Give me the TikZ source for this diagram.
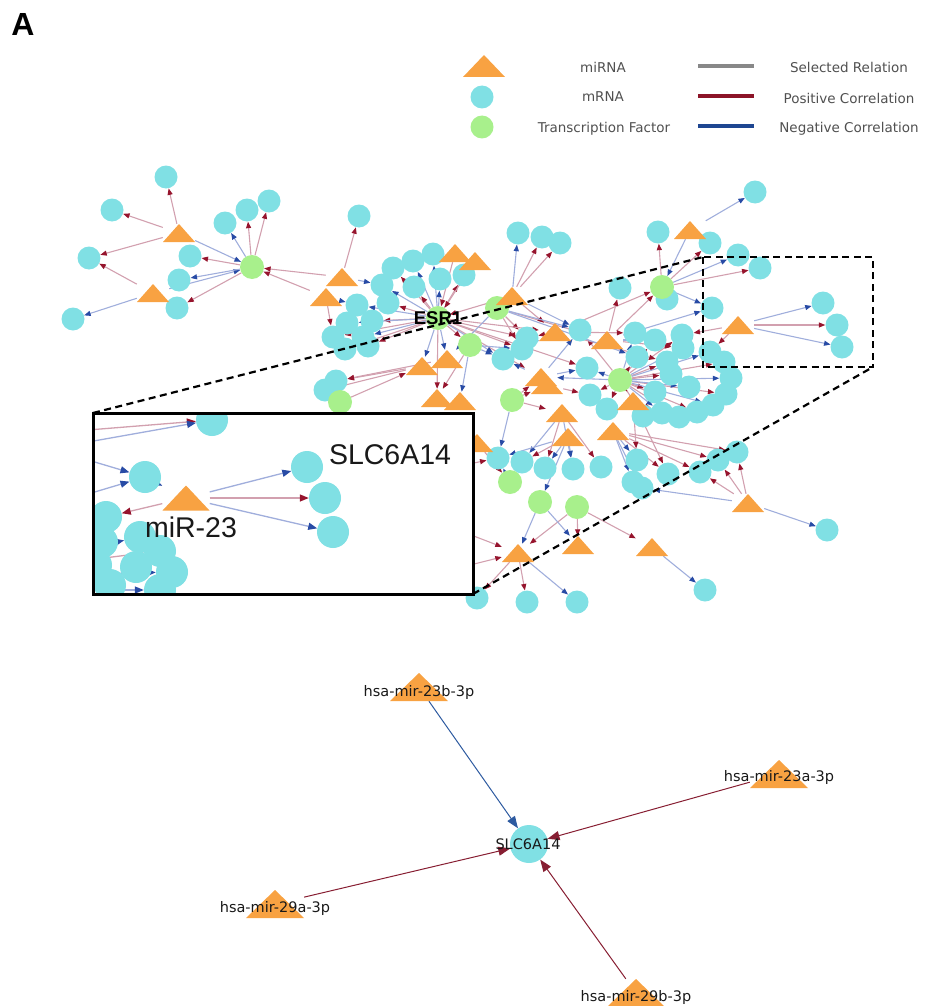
\documentclass[tikz,border=0pt]{standalone}
\usepackage{fontspec}
\setmainfont{DejaVu Sans}
\newfontfamily\arialf{Liberation Sans}
\usetikzlibrary{arrows.meta,backgrounds}
\pgfdeclarelayer{insetback}
\pgfdeclarelayer{insetfront}
\pgfsetlayers{background,main,insetback,insetfront}

\definecolor{mrnacol}{RGB}{128,224,228}
\definecolor{tfcol}{RGB}{168,240,140}
\definecolor{mircol}{RGB}{248,162,66}
\definecolor{posline}{RGB}{210,160,175}
\definecolor{postip}{RGB}{150,20,45}
\definecolor{negline}{RGB}{160,174,220}
\definecolor{negtip}{RGB}{40,75,165}
\definecolor{posdark}{RGB}{135,30,50}
\definecolor{negdark}{RGB}{45,90,160}
\definecolor{legtext}{RGB}{80,80,80}
\definecolor{selgray}{RGB}{136,136,136}
\definecolor{legred}{RGB}{140,20,40}
\definecolor{legblue}{RGB}{30,70,145}

\tikzset{
  mr/.style={circle, fill=mrnacol, inner sep=0pt, minimum size=23pt},
  tf/.style={circle, fill=tfcol, inner sep=0pt, minimum size=24pt},
  tri/.style={rectangle, inner sep=0pt,
    path picture={\fill[mircol] (path picture bounding box.south west)
      -- (path picture bounding box.south east)
      -- (path picture bounding box.north) -- cycle;}},
  mi/.style={tri, minimum width=32pt, minimum height=18pt},
  posedge/.style={draw=posline, line width=1.1pt, -{Triangle[length=6.5pt,width=5pt,color=postip]}},
  negedge/.style={draw=negline, line width=1.1pt, -{Triangle[length=6.5pt,width=5pt,color=negtip]}},
  imr/.style={mr, minimum size=32pt},
  imi/.style={tri, minimum width=47pt, minimum height=25pt},
  iposedge/.style={draw=posline, line width=1.3pt, -{Triangle[length=9pt,width=7pt,color=postip]}},
  inegedge/.style={draw=negline, line width=1.3pt, -{Triangle[length=9pt,width=7pt,color=negtip]}},
  bmr/.style={mr, minimum size=38pt},
  bmi/.style={tri, minimum width=58pt, minimum height=28pt},
  bposedge/.style={draw=posdark, line width=1pt, -{Triangle[length=12pt,width=9pt]}},
  bnegedge/.style={draw=negdark, line width=1pt, -{Triangle[length=12pt,width=9pt]}},
  blbl/.style={inner sep=0pt, font=\fontsize{14.5}{16}\selectfont, text=black!90},
  legtxt/.style={inner sep=0pt, font=\fontsize{13.5}{15}\selectfont, text=legtext},
  legline/.style={line width=4pt},
  dashln/.style={line width=2.2pt, dash pattern=on 7pt off 4.5pt, black},
  bigtxt/.style={inner sep=0pt, font=\arialf\fontsize{28.5}{30}\selectfont, text=black!90},
}

\begin{document}
\begin{tikzpicture}[x=1pt,y=-1pt]
\useasboundingbox (0,0) rectangle (924,1006);

% panel letter
\node[inner sep=0pt, font=\arialf\bfseries\fontsize{32}{34}\selectfont] (panel) at (23,24) {A};

% ---------------- legend ----------------
\node[mi, minimum width=42pt, minimum height=22pt] (legmi) at (484,66) {};
\node[mr] (legmr) at (482,97) {};
\node[tf, minimum size=23pt] (legtf) at (482,127) {};
\node[legtxt] (legmit) at (603,67) {miRNA};
\node[legtxt] (legmrt) at (603,97) {mRNA};
\node[legtxt] (legtft) at (604,129) {Transcription Factor};
\coordinate (ls1) at (698,66);  \coordinate (ls2) at (754,66);
\coordinate (lp1) at (698,96);  \coordinate (lp2) at (754,96);
\coordinate (ln1) at (698,126); \coordinate (ln2) at (754,126);
\draw[legline, selgray] (ls1) -- (ls2);
\draw[legline, legred] (lp1) -- (lp2);
\draw[legline, legblue] (ln1) -- (ln2);
\node[legtxt] (legsel) at (849,67) {Selected Relation};
\node[legtxt] (legpos) at (849,98) {Positive Correlation};
\node[legtxt] (legneg) at (849,129) {Negative Correlation};

% ---------------- network: mRNA nodes ----------------
\foreach \n/\x/\y in {
  a1/166/177, a2/112/210, a4/247/210, a5/269/201, a6/225/223, a7/89/258,
  a8/190/256, a9/179/280, a11/177/308, a12/73/319, a13/359/216,
  e1/357/305, e2/388/303, e3/382/285, e4/393/268, e5/413/261, e6/433/254,
  e7/440/279, e8/414/287, e9/464/275, e10/347/323, e11/372/321, e12/333/337,
  e13/363/337, e14/345/349, e15/368/346,
  f1/518/233, f2/542/237, f3/560/243,
  h1/325/390, h2/336/381, h3/503/359, h4/527/338, h5/522/349,
  k1/580/330, k2/620/288, k3/667/299, k4/712/308, k5/823/303, k6/837/325,
  k7/842/347, k8/658/232, k9/755/192, k10/710/243, k11/738/255, k12/760/268,
  r1/635/333, r2/655/340, r3/682/335, r4/683/348, r5/637/357, r6/667/362,
  r7/710/352, r8/724/362, r9/731/378, r10/726/394, r11/713/405, r12/697/412,
  r13/679/417, r14/662/413, r15/643/416, r16/655/392, r17/689/387, r18/671/374,
  r19/587/368, r20/590/395, r21/607/409,
  b1/498/458, b2/522/462, b3/545/468, b4/573/469, b5/601/467, b6/637/460,
  b7/633/482, b8/642/488, b9/668/474, b10/700/472, b11/718/460, b12/737/452,
  bc1/477/598, bc2/527/602, bc3/577/602, bc4/705/590, bc5/827/530}
  \node[mr] (\n) at (\x,\y) {};

% ---------------- network: transcription factors ----------------
\foreach \n/\x/\y in {
  g1/252/267, esr/438/318, g2/497/308, hg/340/402, g3/470/345, g4/662/287,
  g5/620/380, g6/512/400, lg1/510/482, lg2/540/502, lg3/577/507}
  \node[tf] (\n) at (\x,\y) {};

% ---------------- network: miRNA nodes ----------------
\foreach \n/\x/\y in {
  a3/179/233, a10/153/293, a14/342/277, a15/326/297,
  et1/455/253, et2/475/261, ft/512/296,
  ht1/422/366, ht2/447/359, ht3/437/398, ht4/460/401, hx/477/443,
  kt1/555/332, kt2/607/340, kt3/690/230, t8/738/325,
  kt4/541/377, kt4b/547/385, kt5/633/401,
  lt1/562/413, lt2/568/437, lt3/613/431,
  bt1/518/553, bt2/578/545, bt3/652/547, bt4/748/503}
  \node[mi] (\n) at (\x,\y) {};

\node[inner sep=0pt, font=\arialf\bfseries\fontsize{18.5}{20}\selectfont] (esrlbl) at (esr) {ESR1};

% free ends of edges that run under the inset
\coordinate (hidA) at (430,575);
\coordinate (hidB) at (445,525);
\coordinate (hidC) at (440,470);

% ---------------- network: edges ----------------
\begin{pgfonlayer}{background}
\foreach \src/\dst in {
  a3/a1, a3/a2, a3/a7, a10/a7, g1/a4, g1/a5, g1/a8, g1/a11, a14/g1, a15/g1, a14/a13,
  esr/e2, esr/e4, esr/e8, esr/e9, esr/e11, esr/e12, esr/e14, esr/e15, et1/esr, et2/esr,
  ft/f2, ft/f3, ft/esr, esr/h4, esr/h5, esr/ht3, g3/ht3, hg/ht1, ht1/h2, ht1/h1, ht2/h2,
  kt1/g4, kt2/g4, kt2/k2, kt1/h4, g4/k8, g4/k10, g4/k12, t8/k6, t8/r3, t8/r7, g2/h4,
  g5/r2, g5/r3, g5/r5, g5/r6, g5/r8, g5/r10, g5/r12, g5/r13, g5/r15, g5/r16, g5/r18,
  g5/r20, g5/r21, g5/kt5, kt5/r14, esr/kt1, g2/kt2, ft/kt1, esr/r19, kt4b/r20,
  g6/lt1, g6/kt4, lt1/b3, lt1/b5, lt2/b2, lt3/b9, lt3/b10, lt3/b11, lt3/b12,
  lg3/bt2, lg3/bt3, lg3/bt1, bt1/bc1, bt1/bc2, bt4/b12, bt4/b11, bt4/b10, hx/lg1,
  hidA/bt1, hidB/bt1, esr/g3, g6/kt4b, kt1/r1, a15/e12, g2/h5, kt5/b9, kt5/b6,
  kt2/r4, g5/k1, kt1/r6, esr/kt4, hidC/b1}
  \draw[posedge] (\src) -- (\dst);
\foreach \src/\dst in {
  a3/g1, a10/a12, a10/g1, g1/a6, g1/a9, a14/e3, a15/e1,
  esr/e1, esr/e3, esr/e5, esr/e6, esr/e7, esr/e10, esr/e13, ft/f1, ft/k1, g2/ht2,
  esr/h3, esr/ht1, g3/ht4, kt1/h3,
  kt3/k9, kt3/g4, g4/k11, g4/k4, t8/k5, t8/k7, kt2/k4, g2/k1,
  g5/r1, g5/r4, g5/r7, g5/r9, g5/r11, g5/r14, g5/r17, g5/r19, kt4/h3, kt4/r19, kt4/k1,
  g6/b1, lt1/b2, lt1/b4, lt2/b3, lt2/b4, lt2/b1, lt2/lg2, lg2/bt1, lg2/bt2,
  lt3/b6, lt3/b7, lt3/b8, bt1/bc3, bt3/bc4, bt4/bc5, bt4/b8, lg1/b1, g3/h3,
  g5/kt4, g2/r5, kt2/r2, esr/ht2, g3/h5}
  \draw[negedge] (\src) -- (\dst);
\end{pgfonlayer}

% ---------------- zoom frame and guide lines ----------------
\coordinate (zoomNW) at (703,257);
\coordinate (zoomSE) at (873,367);
\coordinate (insNW) at (93,413);
\coordinate (insSE) at (473,594);
\draw[dashln] (insNW) -- (zoomNW);
\draw[dashln] (insSE) -- (zoomSE);
\draw[dashln] (zoomNW) rectangle (zoomSE);

% ---------------- inset: nodes ----------------
\begin{pgfonlayer}{insetfront}
\begin{scope}
  \clip (insNW) rectangle (insSE);
  \foreach \n/\x/\y in {
    i1/212/420, i2/145/477, i3/307/467, i4/325/498, i5/333/532,
    j1/106/517, j9/96/565, j2/102/542, j3/140/537, j4/160/551, j6/136/567,
    j5/172/572, j7/110/585, j8/160/590}
    \node[imr] (\n) at (\x,\y) {};
  \node[imi] (imir) at (186,498) {};
  \node[bigtxt] (inslbl1) at (390,455) {SLC6A14};
  \node[bigtxt] (inslbl2) at (191,527) {miR-23};
\end{scope}
\draw[line width=3pt, black] (insNW) rectangle (insSE);
\end{pgfonlayer}

% ---------------- inset: edges ----------------
\coordinate (p1) at (88,430);
\coordinate (p2) at (88,442);
\coordinate (p3) at (88,460);
\coordinate (p4) at (88,494);
\coordinate (p5) at (88,548);
\coordinate (p6) at (88,560);
\coordinate (p7) at (88,574);
\coordinate (p8) at (88,590);
\begin{pgfonlayer}{insetback}
\fill[white] (insNW) rectangle (insSE);
\begin{scope}
  \clip (insNW) rectangle (insSE);
  \draw[iposedge] (p1) -- (i1);
  \draw[inegedge] (p2) -- (i1);
  \draw[inegedge] (p3) -- (i2);
  \draw[inegedge] (p4) -- (i2);
  \draw[inegedge] (i2) -- (imir);
  \draw[inegedge] (imir) -- (i3);
  \draw[iposedge] (imir) -- (i4);
  \draw[inegedge] (imir) -- (i5);
  \draw[iposedge] (imir) -- (j1);
  \draw[inegedge] (p5) -- (j3);
  \draw[iposedge] (p6) -- (j4);
  \draw[inegedge] (p7) -- (j5);
  \draw[inegedge] (p8) -- (j8);
\end{scope}
\end{pgfonlayer}

% ---------------- detail graph ----------------
\node[bmi] (m23b) at (419,687) {};
\node[bmi] (m23a) at (779,774) {};
\node[bmr] (slc) at (529,844) {};
\node[bmi] (m29a) at (275,904) {};
\node[bmi] (m29b) at (636,993) {};
\node[blbl] (m23bl) at (419,692) {hsa-mir-23b-3p};
\node[blbl] (m23al) at (779,777) {hsa-mir-23a-3p};
\node[blbl] (slcl) at (528,844) {SLC6A14};
\node[blbl] (m29al) at (275,908) {hsa-mir-29a-3p};
\node[blbl] (m29bl) at (636,997) {hsa-mir-29b-3p};
\begin{pgfonlayer}{background}
\draw[bnegedge] (m23b) -- (slc);
\draw[bposedge] (m23a) -- (slc);
\draw[bposedge] (m29a) -- (slc);
\draw[bposedge] (m29b) -- (slc);
\end{pgfonlayer}
\end{tikzpicture}
\end{document}
